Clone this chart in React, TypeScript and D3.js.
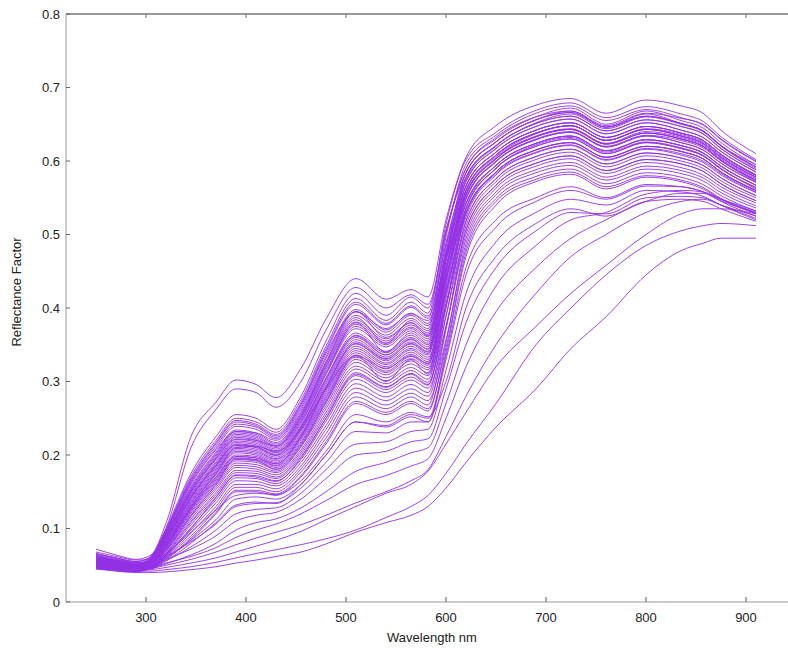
import React from 'react';
import * as d3 from 'd3';

const wavelengths = [250, 270, 290, 305, 320, 345, 370, 390, 410, 430, 455, 480, 510, 540, 565, 582, 600, 620, 650, 690, 725, 760, 800, 835, 857, 875, 910];

// reflectance factor × 1000, two highest spectra in the visible range
const upperSpectra: number[][] = [
  [72, 64, 58, 64, 107, 225, 272, 302, 296, 278, 318, 385, 440, 412, 425, 415, 520, 605, 648, 676, 685, 665, 683, 675, 665, 642, 610],
  [65, 60, 55, 62, 100, 210, 262, 290, 285, 265, 300, 370, 428, 400, 418, 405, 505, 590, 632, 660, 668, 648, 665, 658, 650, 630, 600],
];

// reflectance factor × 1000, main bundle
const mainSpectra: number[][] = [
  [60, 55, 51, 62, 100, 175, 225, 255, 250, 235, 280, 355, 420, 390, 415, 400, 506, 584, 626, 656, 666, 646, 661, 651, 641, 621, 592],
  [52, 48, 46, 61, 98, 171, 220, 250, 245, 231, 275, 348, 413, 383, 408, 393, 514, 602, 639, 669, 679, 659, 674, 664, 654, 633, 602],
  [66, 60, 55, 61, 97, 168, 217, 247, 242, 228, 271, 344, 408, 379, 403, 389, 486, 566, 612, 642, 652, 632, 647, 638, 628, 609, 581],
  [55, 51, 48, 60, 96, 166, 215, 245, 240, 226, 269, 341, 405, 377, 401, 386, 502, 590, 630, 660, 672, 650, 668, 655, 645, 625, 595],
  [49, 46, 44, 60, 95, 164, 212, 242, 238, 224, 267, 338, 395, 372, 392, 383, 466, 542, 594, 624, 634, 614, 629, 621, 611, 593, 567],
  [58, 53, 50, 58, 94, 162, 209, 239, 235, 222, 264, 334, 398, 370, 393, 379, 489, 578, 621, 651, 661, 641, 656, 647, 637, 617, 588],
  [47, 45, 43, 59, 93, 160, 207, 232, 230, 220, 261, 331, 395, 367, 390, 376, 474, 560, 608, 638, 648, 628, 643, 634, 624, 605, 578],
  [63, 57, 53, 59, 92, 157, 204, 234, 230, 217, 258, 327, 390, 363, 386, 372, 497, 596, 635, 665, 675, 655, 670, 659, 649, 629, 599],
  [53, 49, 46, 58, 91, 155, 202, 232, 228, 215, 256, 324, 387, 352, 383, 369, 466, 554, 603, 633, 643, 623, 638, 630, 620, 601, 574],
  [68, 62, 57, 58, 90, 153, 200, 230, 226, 213, 254, 321, 384, 358, 380, 366, 477, 572, 617, 647, 657, 637, 652, 642, 632, 613, 585],
  [50, 47, 45, 57, 89, 152, 198, 228, 224, 212, 251, 319, 381, 355, 377, 364, 445, 530, 585, 615, 625, 605, 620, 613, 603, 585, 560],
  [56, 52, 49, 57, 88, 150, 196, 226, 222, 210, 249, 316, 378, 352, 374, 361, 482, 584, 626, 656, 668, 646, 664, 651, 641, 621, 595],
  [60, 55, 51, 57, 87, 148, 194, 224, 220, 208, 247, 313, 375, 350, 372, 358, 455, 548, 599, 629, 639, 619, 634, 625, 615, 597, 571],
  [46, 44, 42, 56, 86, 146, 191, 221, 218, 206, 245, 310, 372, 347, 369, 355, 466, 566, 612, 642, 652, 632, 647, 638, 628, 609, 581],
  [54, 50, 47, 56, 85, 144, 189, 219, 216, 204, 243, 310, 380, 340, 366, 352, 473, 578, 621, 651, 661, 641, 656, 647, 637, 617, 588],
  [64, 58, 54, 55, 84, 143, 187, 217, 214, 203, 240, 305, 366, 341, 363, 350, 441, 536, 590, 620, 630, 610, 625, 617, 607, 589, 564],
  [51, 48, 46, 55, 83, 141, 185, 215, 212, 201, 238, 302, 363, 339, 360, 347, 456, 560, 608, 638, 648, 628, 643, 634, 624, 605, 578],
  [58, 54, 50, 55, 82, 139, 183, 213, 210, 199, 236, 299, 360, 336, 357, 344, 463, 572, 617, 647, 657, 637, 652, 642, 632, 613, 585],
  [48, 45, 43, 54, 81, 137, 181, 211, 208, 197, 234, 296, 357, 333, 354, 341, 440, 542, 594, 624, 634, 614, 629, 621, 611, 593, 567],
  [62, 56, 52, 54, 80, 135, 179, 209, 206, 195, 232, 293, 354, 331, 351, 338, 447, 554, 603, 633, 643, 623, 638, 630, 620, 601, 574],
  [52, 48, 46, 53, 79, 134, 177, 207, 204, 194, 229, 291, 351, 328, 348, 336, 467, 584, 626, 656, 666, 646, 661, 651, 641, 621, 592],
  [57, 52, 48, 53, 78, 132, 175, 205, 202, 192, 227, 288, 348, 325, 345, 333, 422, 524, 581, 611, 621, 601, 616, 608, 598, 581, 557],
  [45, 43, 41, 52, 77, 130, 173, 203, 200, 190, 225, 285, 345, 323, 343, 330, 438, 548, 599, 629, 639, 619, 634, 625, 615, 597, 571],
  [66, 59, 54, 52, 76, 128, 170, 200, 198, 188, 223, 282, 342, 320, 340, 327, 449, 566, 612, 642, 652, 632, 647, 638, 628, 609, 581],
  [50, 47, 44, 51, 75, 126, 168, 198, 196, 186, 221, 279, 339, 317, 337, 324, 422, 530, 585, 615, 625, 605, 620, 613, 603, 585, 560],
  [59, 54, 50, 51, 74, 125, 166, 196, 194, 185, 218, 277, 336, 314, 334, 322, 437, 554, 603, 633, 643, 623, 638, 630, 620, 601, 574],
  [47, 44, 42, 50, 73, 123, 164, 194, 192, 183, 216, 274, 333, 312, 331, 319, 405, 512, 572, 602, 612, 592, 607, 600, 590, 573, 550],
  [55, 51, 48, 50, 72, 121, 162, 192, 190, 181, 214, 271, 330, 309, 328, 316, 425, 542, 594, 624, 634, 614, 629, 621, 611, 593, 567],
  [61, 56, 52, 49, 71, 118, 159, 189, 187, 178, 211, 267, 326, 305, 324, 312, 435, 560, 608, 638, 648, 628, 643, 634, 624, 605, 578],
  [49, 46, 44, 48, 70, 116, 156, 186, 184, 176, 207, 263, 321, 301, 319, 308, 403, 518, 576, 606, 616, 596, 611, 604, 594, 577, 553],
  [53, 49, 46, 48, 69, 113, 153, 183, 181, 173, 204, 258, 317, 297, 315, 303, 413, 536, 590, 620, 630, 610, 625, 617, 607, 589, 564],
  [58, 53, 49, 47, 67, 110, 149, 179, 178, 170, 201, 254, 312, 293, 311, 299, 389, 506, 567, 597, 607, 587, 602, 596, 586, 569, 546],
  [46, 43, 41, 47, 66, 108, 146, 176, 175, 168, 198, 250, 308, 289, 306, 295, 404, 530, 585, 615, 625, 605, 620, 613, 603, 585, 560],
  [63, 57, 52, 46, 65, 105, 143, 173, 172, 165, 194, 246, 303, 285, 302, 291, 376, 494, 558, 588, 598, 578, 593, 587, 577, 561, 539],
  [51, 47, 45, 46, 64, 101, 139, 169, 168, 161, 190, 240, 297, 279, 296, 285, 389, 518, 576, 606, 616, 596, 611, 604, 594, 577, 553],
  [56, 51, 47, 46, 63, 98, 135, 165, 164, 158, 185, 235, 291, 274, 290, 280, 373, 500, 563, 593, 603, 583, 598, 591, 581, 565, 543],
  [48, 45, 43, 46, 62, 94, 130, 160, 160, 154, 181, 229, 285, 268, 284, 274, 357, 482, 549, 579, 589, 569, 584, 578, 568, 553, 532],
  [60, 54, 50, 46, 61, 90, 126, 156, 156, 150, 177, 223, 279, 263, 279, 268, 371, 506, 567, 597, 607, 587, 602, 596, 586, 569, 546],
  [50, 46, 44, 46, 59, 87, 122, 152, 152, 147, 172, 218, 273, 258, 273, 263, 346, 476, 545, 575, 585, 565, 580, 574, 564, 549, 529],
  [54, 49, 46, 46, 58, 85, 120, 150, 150, 145, 170, 215, 270, 255, 270, 260, 353, 488, 554, 584, 594, 574, 589, 583, 573, 557, 536],
  [55, 50, 47, 52, 75, 130, 175, 210, 212, 205, 235, 290, 335, 318, 335, 325, 430, 550, 600, 630, 640, 620, 635, 628, 618, 600, 572],
  [62, 56, 52, 58, 90, 150, 195, 222, 220, 212, 252, 325, 395, 360, 380, 362, 470, 575, 620, 652, 664, 644, 660, 650, 640, 620, 590],
  [50, 46, 44, 50, 70, 118, 160, 195, 193, 180, 212, 272, 335, 300, 330, 310, 418, 535, 590, 622, 632, 612, 626, 618, 608, 590, 562],
  [58, 53, 49, 53, 78, 128, 170, 198, 196, 188, 225, 292, 352, 330, 352, 340, 455, 560, 606, 637, 648, 628, 644, 636, 626, 607, 580],
  [47, 44, 42, 47, 64, 100, 142, 172, 170, 164, 196, 250, 310, 292, 310, 296, 400, 528, 583, 612, 622, 602, 617, 610, 600, 583, 558],
  [60, 55, 51, 56, 84, 142, 186, 214, 211, 200, 238, 304, 362, 336, 358, 344, 452, 556, 604, 634, 644, 624, 640, 632, 622, 603, 576],
  [52, 48, 45, 46, 56, 80, 108, 132, 136, 134, 160, 200, 245, 238, 252, 245, 340, 470, 540, 572, 582, 562, 578, 572, 562, 548, 528],
];

// reflectance factor × 1000, spectra below the main bundle
const lowerSpectra: number[][] = [
  [45, 42, 40, 40, 41, 44, 48, 53, 57, 62, 68, 79, 95, 108, 118, 130, 155, 190, 238, 290, 345, 388, 445, 478, 488, 495, 495],
  [47, 44, 42, 42, 44, 48, 54, 60, 66, 71, 78, 86, 98, 115, 130, 145, 175, 215, 270, 350, 400, 445, 485, 505, 512, 515, 512],
  [50, 46, 43, 44, 47, 53, 60, 68, 76, 84, 96, 112, 130, 148, 160, 178, 215, 258, 320, 375, 420, 458, 500, 528, 535, 535, 528],
  [52, 48, 45, 46, 50, 58, 68, 78, 87, 95, 105, 118, 135, 150, 165, 180, 225, 280, 350, 420, 470, 500, 530, 545, 548, 540, 525],
  [55, 50, 46, 47, 53, 62, 74, 88, 98, 106, 120, 138, 160, 172, 185, 195, 250, 320, 395, 455, 495, 520, 545, 556, 556, 548, 532],
  [48, 45, 43, 45, 52, 64, 80, 98, 108, 113, 128, 150, 178, 190, 203, 210, 270, 350, 430, 485, 520, 530, 555, 560, 558, 548, 530],
  [58, 53, 49, 50, 58, 72, 90, 110, 118, 122, 140, 168, 200, 205, 218, 222, 290, 380, 455, 505, 530, 528, 550, 552, 550, 540, 522],
  [50, 47, 45, 47, 56, 75, 98, 120, 126, 128, 148, 180, 215, 218, 232, 235, 315, 420, 490, 530, 548, 540, 560, 558, 552, 540, 520],
  [62, 56, 51, 52, 62, 82, 106, 130, 134, 135, 155, 190, 232, 230, 245, 245, 330, 445, 510, 545, 560, 548, 566, 565, 558, 545, 525],
  [53, 49, 46, 48, 60, 84, 112, 140, 143, 140, 160, 200, 245, 240, 255, 250, 335, 455, 520, 550, 565, 550, 568, 565, 558, 546, 530],
  [57, 52, 48, 50, 66, 95, 125, 145, 148, 146, 165, 205, 255, 245, 258, 252, 300, 400, 470, 515, 535, 525, 545, 548, 545, 535, 518],
];

const xTicks = [300, 400, 500, 600, 700, 800, 900];
const yTicks = [0, 0.1, 0.2, 0.3, 0.4, 0.5, 0.6, 0.7, 0.8];
const yTickLabels = ['0', '0.1', '0.2', '0.3', '0.4', '0.5', '0.6', '0.7', '0.8'];
const xTitle = 'Wavelength nm';
const yTitle = 'Reflectance Factor';

const W = 788;
const H = 648;
const FONT = '"Liberation Sans", Arial, sans-serif';

export default function App() {
  const x = d3.scaleLinear().domain([220, 942]).range([66, 788]);
  const y = d3.scaleLinear().domain([0, 0.8]).range([602, 14]);
  const line = d3
    .line<number>()
    .x((_, i) => x(wavelengths[i]))
    .y((v) => y(v / 1000))
    .curve(d3.curveMonotoneX);

  const all = [...lowerSpectra, ...mainSpectra, ...upperSpectra];
  const [x0, x1] = x.range();
  const [yb, yt] = y.range();

  return (
    <svg
      width={W}
      height={H}
      style={{ position: 'absolute', left: 0, top: 0, background: '#fff' }}
      fontFamily={FONT}
    >
      <rect x={0} y={0} width={W} height={H} fill="#fff" />
      <g>
        {all.map((s, i) => (
          <path key={i} d={line(s) || ''} fill="none" stroke="#9430e4" strokeWidth={1} strokeOpacity={0.9} />
        ))}
      </g>
      {/* top frame */}
      <line x1={x0} x2={x1} y1={yt} y2={yt} stroke="#333" strokeWidth={1.2} />
      {xTicks.map((t) => (
        <line key={'tt' + t} x1={x(t)} x2={x(t)} y1={yt} y2={yt + 4} stroke="#666" />
      ))}
      {/* bottom axis */}
      <line x1={x0} x2={x1} y1={yb} y2={yb} stroke="#999" strokeWidth={1} />
      {xTicks.map((t) => (
        <g key={'bx' + t}>
          <line x1={x(t)} x2={x(t)} y1={yb} y2={yb - 5} stroke="#555" />
          <text x={x(t)} y={622} fontSize={13} textAnchor="middle" fill="#222">
            {t}
          </text>
        </g>
      ))}
      {/* left axis */}
      <line x1={x0} x2={x0} y1={yt} y2={yb} stroke="#999" strokeWidth={1} />
      {yTicks.map((t, i) => (
        <g key={'ly' + t}>
          <line x1={x0} x2={x0 + 4} y1={y(t)} y2={y(t)} stroke="#666" />
          <text x={60} y={y(t)} dy="0.35em" fontSize={13} textAnchor="end" fill="#222">
            {yTickLabels[i]}
          </text>
        </g>
      ))}
      <text x={432} y={642} fontSize={13} textAnchor="middle" fill="#222">
        {xTitle}
      </text>
      <text
        transform={`translate(21, 292) rotate(-90)`}
        fontSize={13}
        textAnchor="middle"
        fill="#222"
      >
        {yTitle}
      </text>
    </svg>
  );
}
